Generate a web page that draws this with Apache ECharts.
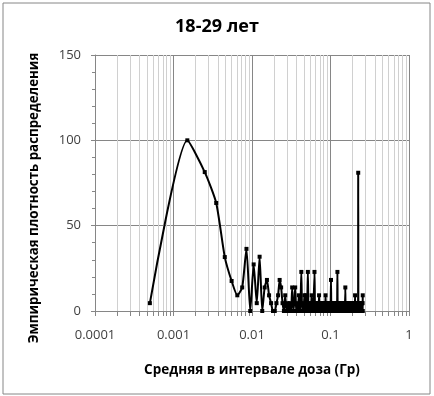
<!DOCTYPE html>
<html>
<head>
<meta charset="utf-8">
<script src="https://cdn.jsdelivr.net/npm/echarts@6/dist/echarts.min.js"></script>
<style>
  html, body { margin: 0; padding: 0; background: #fff; }
  #chart { width: 434px; height: 396px; }
</style>
</head>
<body>
<div id="chart"></div>
<script>
// bins of 0.001 Gy, first centre at 0.0005
const binStart = 0.0005
const binWidth = 0.001

// density per bin
const density = [
  4.6, 100, 81.4, 63.3, 31.6, 17.6, 9.2, 13.8, 36.4, 0, 27.3, 4.6, 31.8, 0, 13.8, 18.2, 9.2, 4.6, 0, 0,
  4.6, 9.2, 18.2, 13.8, 4.6, 0, 9.2, 0, 4.6, 0, 4.6, 0, 13.8, 0, 4.6, 13.8, 0, 4.6, 0, 9.2,
  0, 4.6, 22.9, 0, 4.6, 0, 9.2, 0, 9.2, 0, 4.6, 22.9, 0, 4.6, 0, 4.6, 0, 9.2, 0, 4.6,
  0, 0, 22.9, 0, 4.6, 0, 0, 4.6, 0, 4.6, 0, 9.2, 0, 0, 4.6, 0, 4.6, 0, 0, 4.6,
  0, 4.6, 0, 0, 4.6, 0, 9.2, 0, 4.6, 0, 0, 4.6, 0, 4.6, 0, 4.6, 0, 0, 4.6, 0,
  4.6, 18.2, 0, 4.6, 0, 4.6, 0, 0, 4.6, 0, 4.6, 0, 4.6, 0, 0, 4.6, 0, 4.6, 0, 4.6,
  0, 4.6, 22.9, 0, 4.6, 0, 4.6, 0, 0, 4.6, 0, 4.6, 0, 4.6, 0, 0, 4.6, 0, 4.6, 0,
  4.6, 0, 4.6, 0, 0, 4.6, 0, 4.6, 0, 4.6, 0, 4.6, 0, 0, 13.8, 0, 4.6, 0, 4.6, 0,
  4.6, 4.6, 0, 4.6, 0, 4.6, 4.6, 0, 4.6, 0, 4.6, 4.6, 0, 4.6, 0, 4.6, 4.6, 0, 4.6, 0,
  4.6, 4.6, 0, 4.6, 4.6, 0, 4.6, 0, 4.6, 4.6, 0, 4.6, 0, 4.6, 4.6, 0, 4.6, 0, 4.6, 4.6,
  0, 4.6, 0, 4.6, 0, 9.2, 0, 4.6, 0, 4.6, 4.6, 0, 4.6, 0, 4.6, 0, 0, 4.6, 0, 4.6,
  0, 4.6, 0, 4.6, 0, 81, 0, 4.6, 0, 4.6, 0, 0, 4.6, 0, 4.6, 0, 4.6, 0, 0, 4.6,
  0, 4.6, 0, 4.6, 0, 0, 4.6, 0, 4.6, 0, 4.6, 0, 0, 4.6, 0, 4.6, 0, 9.2
]

const yTicks = [0, 50, 100, 150]
const xTicks = [0.0001, 0.001, 0.01, 0.1, 1]

const font = 'Open Sans'

const points = density.map((v, i) => [+(binStart + binWidth * i).toFixed(4), v])

const chart = echarts.init(document.getElementById('chart'))

const option = {
  animation: false,
  title: {
    text: '18-29 лет',
    left: 'center',
    top: 13,
    textStyle: { fontFamily: font, fontSize: 18, fontWeight: 'bold', color: '#000' }
  },
  grid: {
    left: 95,
    right: 25,
    top: 55,
    bottom: 85
  },
  graphic: [{
    type: 'rect',
    shape: { x: 3, y: 3, width: 427, height: 391 },
    style: { fill: 'none', stroke: '#868686', lineWidth: 1 },
    silent: true
  }, {
    // y axis title, sits a bit lower than the axis middle in the original
    type: 'text',
    x: 34,
    y: 198,
    rotation: Math.PI / 2,
    style: {
      text: 'Эмпирическая плотность распределения',
      fontFamily: font,
      fontSize: 13.3,
      fontWeight: 'bold',
      fill: '#000',
      align: 'center',
      verticalAlign: 'middle'
    },
    silent: true
  }],
  xAxis: {
    type: 'log',
    logBase: 10,
    min: xTicks[0],
    max: xTicks[xTicks.length - 1],
    name: 'Средняя в интервале доза (Гр)',
    nameLocation: 'middle',
    nameGap: 52,
    nameTextStyle: { fontFamily: font, fontSize: 13.5, fontWeight: 'bold', color: '#000' },
    axisLine: { lineStyle: { color: '#868686' } },
    axisTick: { show: true, length: 5, lineStyle: { color: '#868686' } },
    minorTick: { show: true, splitNumber: 10, length: 5, lineStyle: { color: '#868686' } },
    axisLabel: { margin: 18, fontFamily: font, fontSize: 13, color: '#404040' },
    splitLine: { show: true, lineStyle: { color: '#868686' } },
    minorSplitLine: { show: true, lineStyle: { color: '#d0d0d0' } }
  },
  yAxis: {
    type: 'value',
    min: yTicks[0],
    max: yTicks[yTicks.length - 1],
    interval: 50,
    axisLine: { show: true, lineStyle: { color: '#868686' } },
    axisTick: { show: true, length: 4, lineStyle: { color: '#868686' } },
    minorTick: { show: true, splitNumber: 5, length: 3, lineStyle: { color: '#868686' } },
    axisLabel: { margin: 14, fontFamily: font, fontSize: 13, color: '#404040' },
    splitLine: { show: true, lineStyle: { color: '#868686' } }
  },
  series: [{
    type: 'line',
    data: points,
    smooth: 0.2,
    symbol: 'rect',
    symbolSize: 4,
    showAllSymbol: true,
    lineStyle: { color: '#000', width: 2 },
    itemStyle: { color: '#000' }
  }]
}

chart.setOption(option)
</script>
</body>
</html>
